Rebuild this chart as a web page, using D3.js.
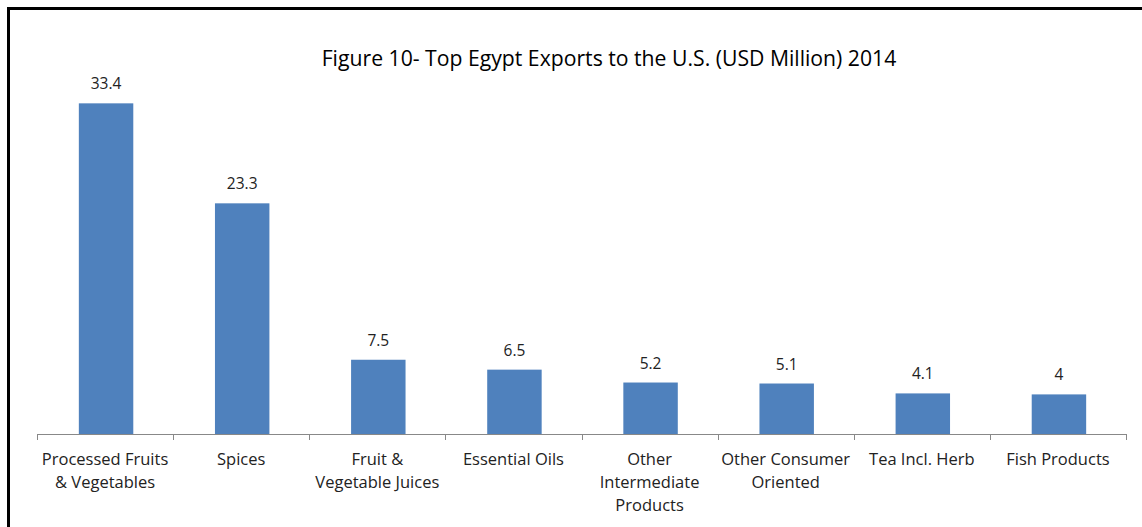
<!DOCTYPE html>
<html>
<head>
<meta charset="utf-8">
<script src="https://cdn.jsdelivr.net/npm/d3@7"></script>
<style>
  html, body { margin: 0; padding: 0; background: #fff; }
  svg { display: block; }
  text { font-family: "Open Sans", Lato, sans-serif; fill: #222; }
</style>
</head>
<body>
<svg id="chart" width="1142" height="527"></svg>
<script>
const categories = [
  "Processed Fruits & Vegetables",
  "Spices",
  "Fruit & Vegetable Juices",
  "Essential Oils",
  "Other Intermediate Products",
  "Other Consumer Oriented",
  "Tea Incl. Herb",
  "Fish Products"
];
const values = [33.4, 23.3, 7.5, 6.5, 5.2, 5.1, 4.1, 4];
// Wrapped category labels, one array of lines per category
const categoryLines = [
  ["Processed Fruits", "& Vegetables"],
  ["Spices"],
  ["Fruit &", "Vegetable Juices"],
  ["Essential Oils"],
  ["Other", "Intermediate", "Products"],
  ["Other Consumer", "Oriented"],
  ["Tea Incl. Herb"],
  ["Fish Products"]
];
const title = "Figure 10- Top Egypt Exports to the U.S. (USD Million) 2014";

const svg = d3.select("#chart");
const W = 1142, H = 527;

// Frame (top and left edges visible)
svg.append("path")
  .attr("d", `M8.5,${H} L8.5,8.5 L${W},8.5`)
  .attr("fill", "none")
  .attr("stroke", "#000")
  .attr("stroke-width", 3);

const left = 37, right = 1126, baseY = 434, topY = 38;

const x = d3.scaleBand().domain(categories).range([left, right]).paddingInner(0).paddingOuter(0);
const y = d3.scaleLinear().domain([0, 40]).range([baseY, topY]);

const barW = x.bandwidth() * 0.4;

svg.append("text")
  .attr("x", 609).attr("y", 66)
  .attr("text-anchor", "middle")
  .attr("font-size", 21.2)
  .style("fill", "#000")
  .text(title);

const bars = svg.append("g");
bars.selectAll("rect").data(values).join("rect")
  .attr("x", (d, i) => x(categories[i]) + x.bandwidth() / 2 - barW / 2 + 1)
  .attr("width", barW)
  .attr("y", d => y(d))
  .attr("height", d => y(0) - y(d))
  .attr("fill", "#4F81BD");

bars.selectAll("text.val").data(values).join("text")
  .attr("class", "val")
  .attr("x", (d, i) => x(categories[i]) + x.bandwidth() / 2 + 1)
  .attr("y", d => y(d) - 14)
  .attr("text-anchor", "middle")
  .attr("font-size", 15.5)
  .text(d => d);

// Category axis with tick marks between categories
const axis = svg.append("g");
axis.append("line")
  .attr("x1", left).attr("x2", right)
  .attr("y1", baseY + 0.5).attr("y2", baseY + 0.5)
  .attr("stroke", "#888").attr("stroke-width", 1);
const tickXs = categories.map(c => x(c)).concat([x(categories[categories.length - 1]) + x.bandwidth()]);
axis.selectAll("line.tick").data(tickXs).join("line")
  .attr("class", "tick")
  .attr("x1", d => Math.round(d) + 0.5).attr("x2", d => Math.round(d) + 0.5)
  .attr("y1", baseY).attr("y2", baseY + 6)
  .attr("stroke", "#888");

const lab = axis.selectAll("text.cat").data(categories).join("text")
  .attr("class", "cat")
  .attr("text-anchor", "middle")
  .attr("font-size", 16.5)
  .attr("x", c => x(c) + x.bandwidth() / 2);
lab.each(function(c, i) {
  const t = d3.select(this);
  categoryLines[i].forEach((line, j) => {
    t.append("tspan")
      .attr("x", x(c) + x.bandwidth() / 2)
      .attr("y", 465 + j * 23)
      .text(line);
  });
});
</script>
</body>
</html>
